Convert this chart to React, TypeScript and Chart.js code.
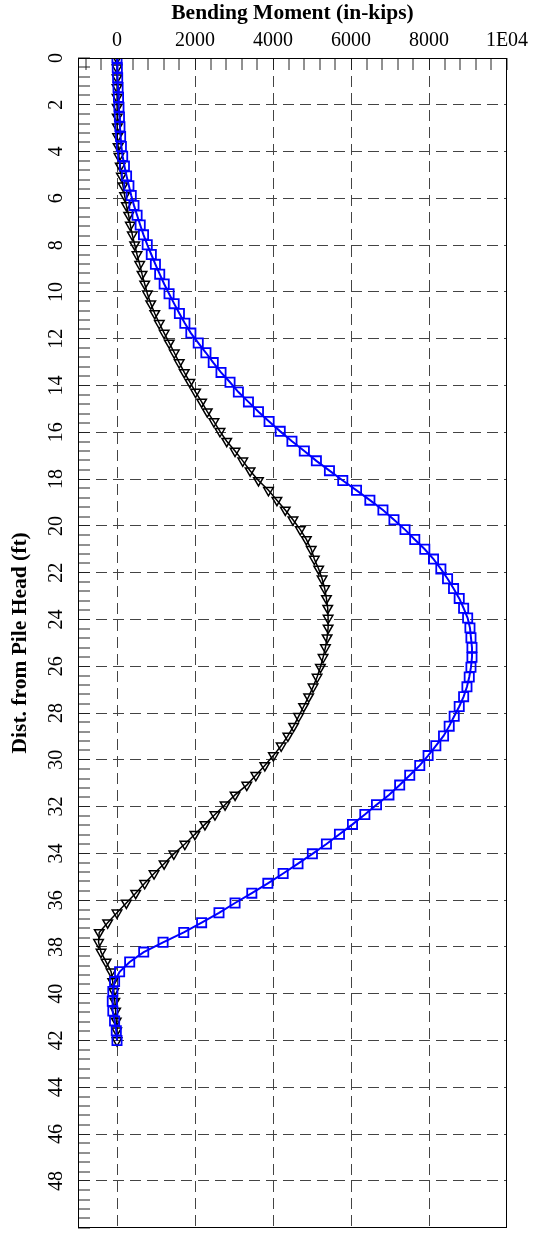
import React, { useEffect, useRef } from 'react';
import { Chart, registerables } from 'chart.js';

Chart.register(...registerables);

// Depth below pile head (ft)
const depthFt = [
  0, 0.42, 0.84, 1.26, 1.68, 2.1, 2.52, 2.94, 3.36, 3.78,
  4.2, 4.62, 5.04, 5.46, 5.88, 6.3, 6.72, 7.14, 7.56, 7.98,
  8.4, 8.82, 9.24, 9.66, 10.08, 10.5, 10.92, 11.34, 11.76, 12.18,
  12.6, 13.02, 13.44, 13.86, 14.28, 14.7, 15.12, 15.54, 15.96, 16.38,
  16.8, 17.22, 17.64, 18.06, 18.48, 18.9, 19.32, 19.74, 20.16, 20.58,
  21, 21.42, 21.84, 22.26, 22.68, 23.1, 23.52, 23.94, 24.36, 24.78,
  25.2, 25.62, 26.04, 26.46, 26.88, 27.3, 27.72, 28.14, 28.56, 28.98,
  29.4, 29.82, 30.24, 30.66, 31.08, 31.5, 31.92, 32.34, 32.76, 33.18,
  33.6, 34.02, 34.44, 34.86, 35.28, 35.7, 36.12, 36.54, 36.96, 37.38,
  37.8, 38.22, 38.64, 39.06, 39.48, 39.9, 40.32, 40.74, 41.16, 41.58,
  42,
];

// Bending moment, black triangles (in-kips)
const momentTriangles = [
  0, 0, 0, 1, 2, 4, 6, 10, 16, 28,
  50, 84, 111, 153, 196, 240, 299, 342, 393, 453,
  513, 582, 642, 710, 779, 865, 968, 1085, 1210, 1340,
  1470, 1595, 1725, 1869, 2015, 2170, 2314, 2486, 2641, 2813,
  3027, 3225, 3413, 3627, 3884, 4100, 4314, 4512, 4700, 4855,
  4980, 5060, 5171, 5259, 5326, 5370, 5403, 5413, 5413, 5387,
  5344, 5284, 5215, 5130, 5027, 4914, 4785, 4657, 4528, 4380,
  4210, 4010, 3790, 3560, 3328, 3027, 2770, 2512, 2254, 1997,
  1740, 1457, 1207, 950, 710, 479, 239, 0, -240, -456,
  -473, -410, -280, -150, -110, -80, -55, -35, -20, -8,
  0,
];

// Bending moment, blue squares (in-kips)
const momentSquares = [
  0, 8, 17, 27, 38, 50, 62, 75, 92, 112,
  145, 190, 245, 305, 365, 435, 515, 595, 680, 775,
  880, 985, 1095, 1210, 1335, 1465, 1600, 1740, 1894, 2083,
  2280, 2468, 2667, 2898, 3112, 3370, 3627, 3900, 4185, 4486,
  4803, 5112, 5447, 5789, 6142, 6484, 6819, 7102, 7385, 7635,
  7892, 8116, 8304, 8476, 8630, 8775, 8888, 8991, 9050, 9076,
  9102, 9102, 9076, 9032, 8973, 8888, 8775, 8646, 8518, 8373,
  8175, 7977, 7763, 7506, 7248, 6973, 6654, 6355, 6038, 5704,
  5370, 5010, 4641, 4260, 3868, 3457, 3027, 2615, 2170, 1712,
  1181, 685, 325, 67, -62, -106, -120, -106, -62, -18,
  0,
];

const xMajorValues = [0, 2000, 4000, 6000, 8000, 10000];
const xMajorLabels = ['0', '2000', '4000', '6000', '8000', '1E04'];
const yMajorValues = [0, 2, 4, 6, 8, 10, 12, 14, 16, 18, 20, 22, 24, 26, 28, 30, 32, 34, 36, 38, 40, 42, 44, 46, 48];
const yMajorLabels = ['0', '2', '4', '6', '8', '10', '12', '14', '16', '18', '20', '22', '24', '26', '28', '30', '32', '34', '36', '38', '40', '42', '44', '46', '48'];

const xTitle = 'Bending Moment (in-kips)';
const yTitle = 'Dist. from Pile Head (ft)';

const FONT = '"Liberation Serif", "Times New Roman", serif';

const framePlugin = {
  id: 'frame',
  afterDraw(chart: any) {
    const { ctx, chartArea: a } = chart;
    ctx.save();
    ctx.strokeStyle = '#000';
    ctx.lineWidth = 1;
    ctx.setLineDash([]);
    ctx.strokeRect(Math.round(a.left) + 0.5, Math.round(a.top) + 0.5, Math.round(a.right - a.left) - 1, Math.round(a.bottom - a.top) - 1);
    ctx.restore();
  },
};

const zeroPad = (scale: any) => {
  scale.paddingTop = 0;
  scale.paddingBottom = 0;
  scale.paddingLeft = 0;
  scale.paddingRight = 0;
};

export default function App() {
  const ref = useRef<HTMLCanvasElement | null>(null);

  useEffect(() => {
    if (!ref.current) return;
    const tri = depthFt.map((d, i) => ({ x: momentTriangles[i], y: d }));
    const sq = depthFt.map((d, i) => ({ x: momentSquares[i], y: d }));

    const xTicks: number[] = [];
    for (let k = -2; k <= 25; k++) xTicks.push(k * 400);
    const yTicks: number[] = [];
    for (let k = 0; k <= 125; k++) yTicks.push(Math.round(k * 4) / 10);

    const isXMajor = (v: number) => xMajorValues.indexOf(v) >= 0;
    const isYMajor = (v: number) => yMajorValues.indexOf(Math.round(v * 10) / 10) >= 0;

    const chart = new Chart(ref.current, {
      type: 'scatter',
      data: {
        datasets: [
          {
            label: 'Squares',
            data: sq,
            showLine: true,
            borderColor: '#0000ff',
            borderWidth: 2,
            pointStyle: 'rect',
            pointRadius: 6.5,
            pointBorderWidth: 1.8,
            pointBorderColor: '#0000ff',
            pointBackgroundColor: 'rgba(0,0,0,0)',
            tension: 0,
          },
          {
            label: 'Triangles',
            data: tri,
            showLine: true,
            borderColor: '#000000',
            borderWidth: 1.5,
            pointStyle: 'triangle',
            pointRotation: 180,
            pointRadius: 5.5,
            pointBorderWidth: 1.5,
            pointBorderColor: '#000000',
            pointBackgroundColor: 'rgba(0,0,0,0)',
            tension: 0,
          },
        ],
      },
      options: {
        responsive: false,
        animation: false,
        events: [],
        layout: { padding: { left: 0, top: 0, right: 27, bottom: 1 } },
        plugins: { legend: { display: false }, tooltip: { enabled: false }, title: { display: false } },
        scales: {
          x: {
            type: 'linear',
            position: 'top',
            min: -1000,
            max: 10000,
            afterBuildTicks: (scale: any) => {
              scale.ticks = xTicks.map((v) => ({ value: v }));
            },
            afterFit: (scale: any) => {
              scale.height = 58;
              zeroPad(scale);
            },
            ticks: {
              autoSkip: false,
              maxRotation: 0,
              minRotation: 0,
              padding: 17,
              color: '#000',
              font: { family: FONT, size: 20 },
              callback: (value: any) => {
                const i = xMajorValues.indexOf(Number(value));
                return i >= 0 ? xMajorLabels[i] : '';
              },
            },
            grid: {
              drawTicks: true,
              tickLength: -12,
              tickColor: '#222',
              tickWidth: 1,
              color: '#444',
              lineWidth: (ctx: any) => {
                const v = ctx.tick ? ctx.tick.value : NaN;
                return isXMajor(v) && v !== 10000 ? 1 : 0;
              },
            },
            border: { display: true, color: '#000', width: 1, dash: [11, 6] },
            title: {
              display: true,
              text: xTitle,
              color: '#000',
              font: { family: FONT, size: 21.5, weight: 'bold' },
              padding: { top: 1, bottom: 0 },
            },
          },
          y: {
            type: 'linear',
            position: 'left',
            reverse: true,
            min: 0,
            max: 50,
            afterBuildTicks: (scale: any) => {
              scale.ticks = yTicks.map((v) => ({ value: v }));
            },
            afterFit: (scale: any) => {
              scale.width = 78;
              zeroPad(scale);
            },
            ticks: {
              autoSkip: false,
              minRotation: 90,
              maxRotation: 90,
              crossAlign: 'center',
              padding: 23,
              color: '#000',
              font: { family: FONT, size: 20 },
              callback: (value: any) => {
                const v = Math.round(Number(value) * 10) / 10;
                const i = yMajorValues.indexOf(v);
                return i >= 0 ? yMajorLabels[i] : '';
              },
            },
            grid: {
              drawTicks: true,
              tickLength: -12,
              tickColor: '#222',
              tickWidth: 1,
              color: '#444',
              lineWidth: (ctx: any) => {
                const v = ctx.tick ? ctx.tick.value : NaN;
                return isYMajor(v) && v > 0 && v < 50 ? 1 : 0;
              },
            },
            border: { display: true, color: '#000', width: 1, dash: [11, 6] },
            title: {
              display: true,
              text: yTitle,
              color: '#000',
              font: { family: FONT, size: 21.5, weight: 'bold' },
              padding: { top: 8, bottom: 0 },
            },
          },
        },
      },
      plugins: [framePlugin],
    } as any);

    return () => {
      chart.destroy();
    };
  }, []);

  return (
    <div style={{ position: 'fixed', left: 0, top: 0, width: 534, height: 1236, background: '#fff' }}>
      <canvas ref={ref} width={534} height={1236} style={{ display: 'block', width: 534, height: 1236 }} />
    </div>
  );
}
